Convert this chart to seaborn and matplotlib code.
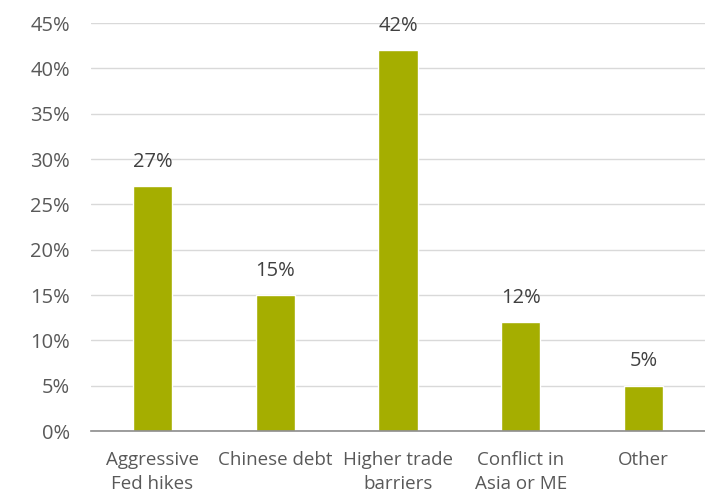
import matplotlib
matplotlib.use("Agg")
import matplotlib.pyplot as plt
import seaborn as sns
import pandas as pd

categories = ["Aggressive\nFed hikes", "Chinese debt", "Higher trade\nbarriers", "Conflict in\nAsia or ME", "Other"]
shares = [27, 15, 42, 12, 5]
yticks = [0, 5, 10, 15, 20, 25, 30, 35, 40, 45]

sns.set_style("white")
plt.rcParams["font.family"] = ["Open Sans", "DejaVu Sans"]

df = pd.DataFrame({"risk": categories, "share": shares})

fig = plt.figure(figsize=(7.05, 4.95), dpi=100)
ax = fig.add_axes([0.129, 0.129, 0.871, 0.8245])

tick_color = "#595959"
value_color = "#404040"
sns.barplot(data=df, x="risk", y="share", color="#A5AE00", width=0.32,
            saturation=1, ax=ax, zorder=3)

ax.set_ylim(0, 45)
ax.set_xlim(-0.5, 4.5)
ax.set_yticks(yticks)
ax.set_yticklabels([f"{v}%" for v in yticks])
ax.yaxis.grid(True, color="#D9D9D9", linewidth=1, zorder=0)
ax.set_xlabel("")
ax.set_ylabel("")

for s in ["top", "right", "left"]:
    ax.spines[s].set_visible(False)
ax.spines["bottom"].set_color("#8C8C8C")
ax.spines["bottom"].set_linewidth(1.2)
ax.spines["bottom"].set_zorder(4)

ax.tick_params(axis="y", length=0, labelsize=14.5, colors=tick_color, pad=15)
ax.tick_params(axis="x", length=0, labelsize=13.5, colors=tick_color, pad=14)
for lbl in ax.get_xticklabels():
    lbl.set_linespacing(1.45)

for i, v in enumerate(shares):
    ax.text(i, v + 1.6, f"{v}%", ha="center", va="bottom", fontsize=14.5, color=value_color)

fig.savefig("out.png", dpi=100)
